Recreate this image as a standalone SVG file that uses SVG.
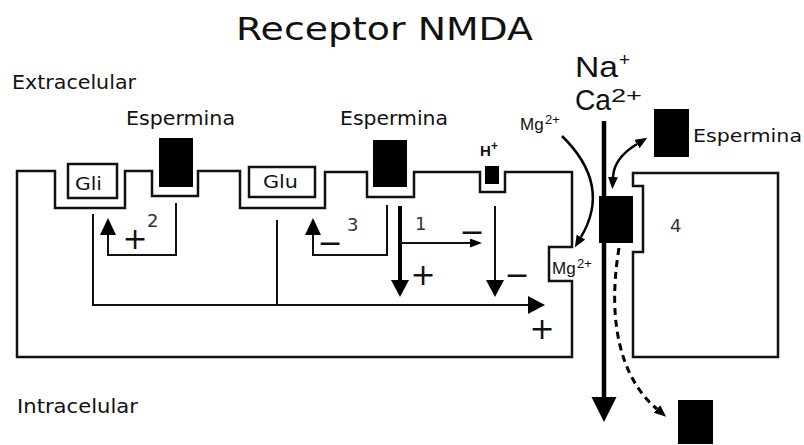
<svg xmlns="http://www.w3.org/2000/svg" width="804" height="445" viewBox="0 0 804 445">
<style>
text{font-family:"DejaVu Sans","Liberation Sans",sans-serif;fill:#111}
.hv{font-family:"Liberation Sans",Arial,sans-serif}
.sign{font-size:30px;text-anchor:middle;dominant-baseline:central}
.num{font-size:18px;fill:#333}
.ol{fill:none;stroke:#111;stroke-width:2.5;stroke-linejoin:miter}
.ln{fill:none;stroke:#111;stroke-width:2}
.blk{fill:#000}
</style>
<defs>
<marker id="big" markerUnits="userSpaceOnUse" markerWidth="18" markerHeight="18" refX="0" refY="9" orient="auto"><path d="M0,0 L17,9 L0,18 Z" fill="#000"/></marker>
<marker id="up" markerUnits="userSpaceOnUse" markerWidth="18" markerHeight="16" refX="0" refY="8" orient="auto"><path d="M0,0 L17,8 L0,16 Z" fill="#000"/></marker>
<marker id="sm" markerUnits="userSpaceOnUse" markerWidth="13" markerHeight="9" refX="0" refY="4.5" orient="auto"><path d="M0,0 L12,4.5 L0,9 Z" fill="#000"/></marker>
<marker id="chan" markerUnits="userSpaceOnUse" markerWidth="26" markerHeight="26" refX="0" refY="12.5" orient="auto"><path d="M0,0 L25,12.5 L0,25 Z" fill="#000"/></marker>
<marker id="cv" markerUnits="userSpaceOnUse" markerWidth="13" markerHeight="11" refX="0" refY="5" orient="auto-start-reverse"><path d="M0,0 L12,5 L0,10 Z" fill="#000"/></marker>
</defs>
<rect width="804" height="445" fill="#fff"/>

<text x="236" y="40" font-size="32" textLength="297" lengthAdjust="spacingAndGlyphs">Receptor NMDA</text>
<text x="12" y="89" font-size="19" textLength="124" lengthAdjust="spacingAndGlyphs">Extracelular</text>
<text x="17" y="413" font-size="19" textLength="121" lengthAdjust="spacingAndGlyphs">Intracelular</text>

<g id="membrane-left">
<path class="ol" d="M17,171 H55 V208 H125 V171 H152 V196 H198 V171 H240 V208 H325 V172 H367 V197 H414 V172 H480 V192 H505 V172 H572 V247 H549 V281 H572 V357 H17 Z"/>
</g>
<g id="membrane-right">
<path class="ol" d="M633,173 H778 V357 H633 V252 H643 V186 H633 Z"/>
</g>

<g id="gli">
<rect class="ol" x="68" y="164" width="49" height="34"/>
<text x="75" y="190" font-size="17" textLength="27" lengthAdjust="spacingAndGlyphs">Gli</text>
</g>
<g id="glu">
<rect class="ol" x="249" y="167" width="66" height="30"/>
<text x="263" y="188" font-size="17" textLength="35" lengthAdjust="spacingAndGlyphs">Glu</text>
</g>
<g id="espermina-1">
<rect class="blk" x="159" y="138" width="34" height="49"/>
<text x="126" y="125" font-size="19" textLength="109" lengthAdjust="spacingAndGlyphs">Espermina</text>
</g>
<g id="espermina-2">
<rect class="blk" x="373" y="140" width="34" height="47"/>
<text x="340" y="125" font-size="19" textLength="108" lengthAdjust="spacingAndGlyphs">Espermina</text>
</g>
<g id="h-plus">
<rect class="blk" x="485" y="166" width="14" height="18"/>
<text x="480" y="156" font-size="15" class="hv" font-weight="bold">H</text>
<text x="491" y="150" font-size="12" class="hv" font-weight="bold">+</text>
</g>
<g id="espermina-3">
<rect class="blk" x="654" y="109" width="35" height="48"/>
<text x="693" y="142" font-size="18" textLength="109" lengthAdjust="spacingAndGlyphs">Espermina</text>
</g>
<g id="blocker">
<rect class="blk" x="599" y="196" width="34" height="47"/>
</g>
<g id="espermina-4">
<rect class="blk" x="678" y="400" width="35" height="44"/>
</g>
<g id="ions">
<text x="575" y="77" font-size="29" class="hv" textLength="43" lengthAdjust="spacingAndGlyphs">Na</text>
<text x="619" y="66" font-size="19" class="hv">+</text>
<text x="575" y="110" font-size="29" class="hv" textLength="36" lengthAdjust="spacingAndGlyphs">Ca</text>
<text x="611" y="102" font-size="19" class="hv" textLength="31" lengthAdjust="spacingAndGlyphs">2+</text>
<text x="520" y="130" font-size="17" class="hv">Mg</text>
<text x="545" y="124" font-size="13" class="hv">2+</text>
<text x="552" y="274" font-size="17" class="hv">Mg</text>
<text x="577" y="268" font-size="13" class="hv">2+</text>
</g>

<g id="connectors">
<path class="ln" d="M176,203 V255 H108 V235" marker-end="url(#up)"/>
<path class="ln" d="M387,205 V255 H313 V235" marker-end="url(#up)"/>
<path class="ln" d="M93,214 V305 H528" marker-end="url(#big)"/>
<path class="ln" d="M277,220 V305"/>
<path fill="none" stroke="#000" stroke-width="4" d="M400,206 V280" marker-end="url(#big)"/>
<path class="ln" d="M400,243 H470" marker-end="url(#sm)"/>
<path class="ln" d="M495,206 V280" marker-end="url(#big)"/>
<path fill="none" stroke="#000" stroke-width="4.5" d="M604,121 V397" marker-end="url(#chan)"/>
<path fill="none" stroke="#000" stroke-width="2.5" d="M562,136 Q612,185 581,237" marker-end="url(#cv)"/>
<path fill="none" stroke="#000" stroke-width="2.5" d="M637,144 Q614,158 613,177" marker-start="url(#cv)" marker-end="url(#cv)"/>
<path fill="none" stroke="#000" stroke-width="3" stroke-dasharray="7,5" d="M619,248 C607,320 620,378 657,409" marker-end="url(#cv)"/>
</g>

<g id="labels">
<text class="num" x="147" y="227">2</text>
<text class="num" x="347" y="231">3</text>
<text class="num" x="415" y="230">1</text>
<text class="num" x="670" y="232">4</text>
<text class="sign" x="135" y="238">+</text>
<text class="sign" x="423" y="274">+</text>
<text class="sign" x="542" y="328">+</text>
<text class="sign" x="330" y="242">−</text>
<text class="sign" x="472" y="231">−</text>
<text class="sign" x="517" y="274">−</text>
</g>
</svg>
